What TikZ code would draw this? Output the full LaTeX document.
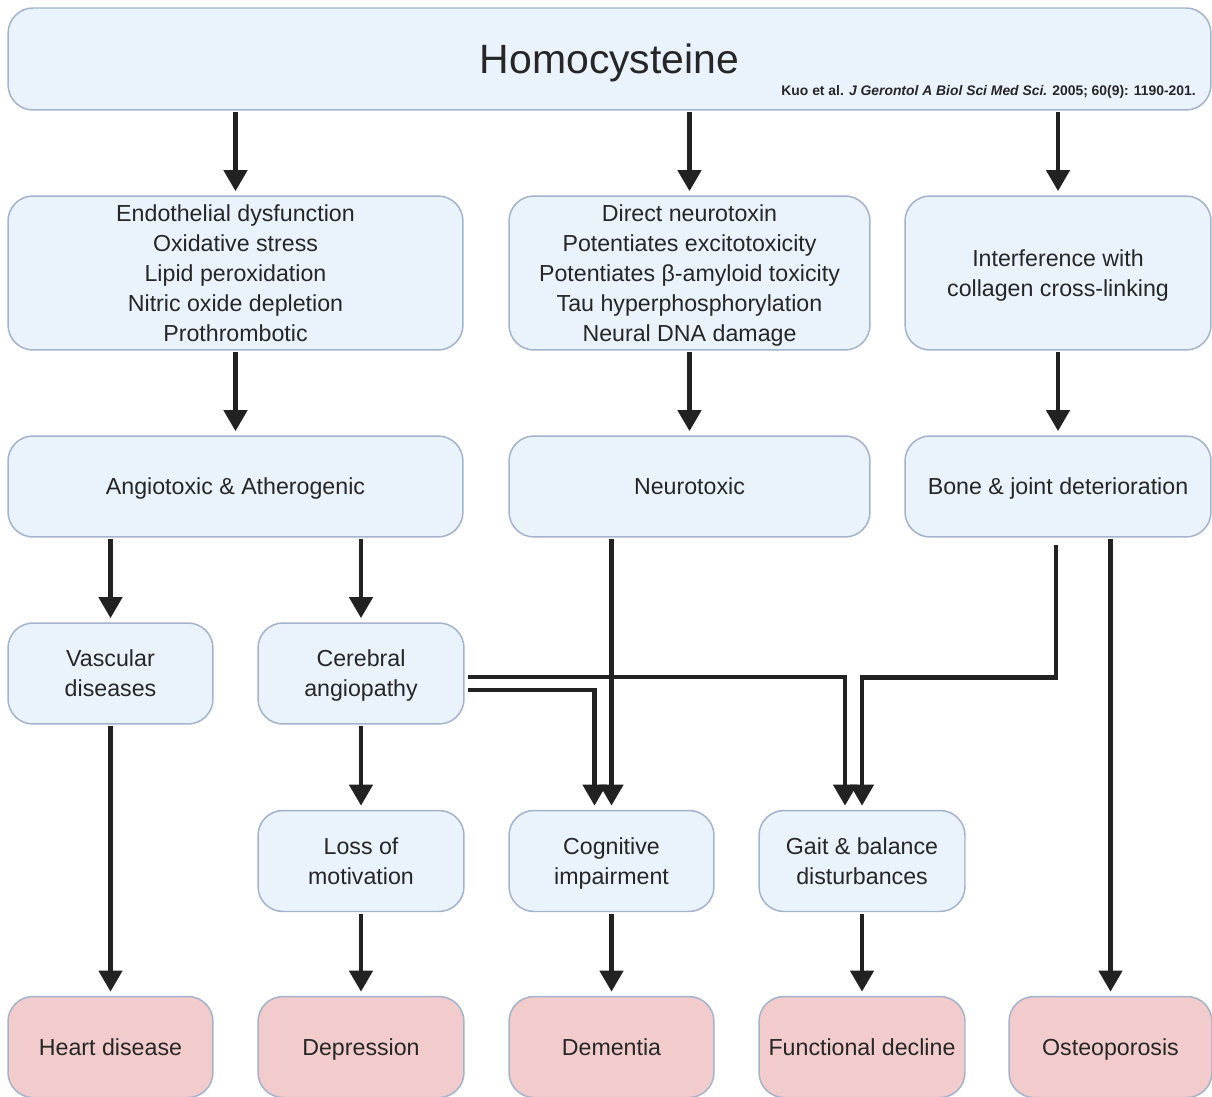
\documentclass[tikz,border=0pt]{standalone}
\usepackage{fontspec}
\setmainfont{Liberation Sans}
\usetikzlibrary{arrows.meta}

\definecolor{boxblue}{HTML}{EAF2FC}
\definecolor{boxpink}{HTML}{F2CCCC}
\definecolor{boxline}{HTML}{A3B3CB}
\definecolor{arrowgray}{HTML}{222222}

\tikzstyle{mech} = [rectangle, rounded corners=0.5cm, draw=boxline, line width=0.85pt, fill=boxblue, text=black!85, align=center, inner sep=0pt, text depth=0pt, font=\fontsize{13.2}{17}\selectfont]
\tikzstyle{outcome} = [mech, fill=boxpink]
\tikzstyle{arrow} = [draw=arrowgray, line width=2.8pt, -{Triangle[width=13pt,length=12pt]}, shorten >=2.3pt, shorten <=1pt]

\begin{document}
\begin{tikzpicture}[x=0.02cm, y=-0.02cm]
\useasboundingbox (0,0) rectangle (1212,1097);
\fill[white] (0,0) rectangle (1212,1097);

\node (homo) [mech, minimum width=24.06cm, minimum height=2.04cm, font=\fontsize{23.3}{28}\selectfont] at (609.5,59) {Homocysteine};
\node (cite) [anchor=base east, inner sep=0pt, text=black!85, font=\fontsize{7.9}{9}\selectfont\bfseries] at (1196,96) {Kuo et al. \textit{J Gerontol A Biol Sci Med Sci.} 2005; 60(9): 1190-201.};

\node (endo) [mech, minimum width=9.1cm, minimum height=3.08cm] at (235.5,273) {Endothelial dysfunction\\Oxidative stress\\Lipid peroxidation\\Nitric oxide depletion\\Prothrombotic};
\node (neuromech) [mech, minimum width=7.22cm, minimum height=3.08cm] at (689.5,273) {Direct neurotoxin\\Potentiates excitotoxicity\\Potentiates β-amyloid toxicity\\Tau hyperphosphorylation\\Neural DNA damage};
\node (collagen) [mech, minimum width=6.12cm, minimum height=3.08cm] at (1058,273) {Interference with\\collagen cross-linking};

\node (angio) [mech, minimum width=9.1cm, minimum height=2.02cm] at (235.5,486.5) {Angiotoxic \& Atherogenic};
\node (neurotox) [mech, minimum width=7.22cm, minimum height=2.02cm] at (689.5,486.5) {Neurotoxic};
\node (bone) [mech, minimum width=6.12cm, minimum height=2.02cm] at (1058,486.5) {Bone \& joint deterioration};

\node (vascular) [mech, minimum width=4.1cm, minimum height=2.02cm] at (110.5,673.5) {Vascular\\diseases};
\node (cerebral) [mech, minimum width=4.12cm, minimum height=2.02cm] at (361,673.5) {Cerebral\\angiopathy};

\node (loss) [mech, minimum width=4.12cm, minimum height=2.02cm] at (361,861) {Loss of\\motivation};
\node (cognitive) [mech, minimum width=4.1cm, minimum height=2.02cm] at (611.5,861) {Cognitive\\impairment};
\node (gait) [mech, minimum width=4.12cm, minimum height=2.02cm] at (862,861) {Gait \& balance\\disturbances};

\node (heart) [outcome, minimum width=4.1cm, minimum height=2.02cm] at (110.5,1047) {Heart disease};
\node (depression) [outcome, minimum width=4.12cm, minimum height=2.02cm] at (361,1047) {Depression};
\node (dementia) [outcome, minimum width=4.1cm, minimum height=2.02cm] at (611.5,1047) {Dementia};
\node (functional) [outcome, minimum width=4.12cm, minimum height=2.02cm] at (862,1047) {Functional decline};
\node (osteo) [outcome, minimum width=4.06cm, minimum height=2.02cm] at (1110.5,1047) {Osteoporosis};

\draw [arrow] (homo.south -| endo.north) -- (endo.north);
\draw [arrow] (homo.south -| neuromech.north) -- (neuromech.north);
\draw [arrow] (homo.south -| collagen.north) -- (collagen.north);

\draw [arrow] (endo) -- (angio);
\draw [arrow] (neuromech) -- (neurotox);
\draw [arrow] (collagen) -- (bone);

\draw [arrow] (angio.south -| vascular.north) -- (vascular.north);
\draw [arrow] (angio.south -| cerebral.north) -- (cerebral.north);

\draw [arrow] (vascular) -- (heart);
\draw [arrow] (cerebral) -- (loss);
\draw [arrow] (loss) -- (depression);
\draw [arrow] (cognitive) -- (dementia);
\draw [arrow] (gait) -- (functional);

\draw [arrow] (neurotox.south -| cognitive.north) -- (cognitive.north);
\draw [arrow, shorten <=2pt] ([yshift=-0.33cm]cerebral.east) -| ([xshift=-0.34cm]cognitive.north);
\draw [arrow, shorten <=2pt] ([yshift=-0.07cm]cerebral.east) -| ([xshift=-0.34cm]gait.north);
\draw [arrow, shorten <=4pt] ([xshift=-0.04cm]bone.south) -- ++(0,140) -| (gait.north);
\draw [arrow] (bone.south -| osteo.north) -- (osteo.north);

\end{tikzpicture}
\end{document}
